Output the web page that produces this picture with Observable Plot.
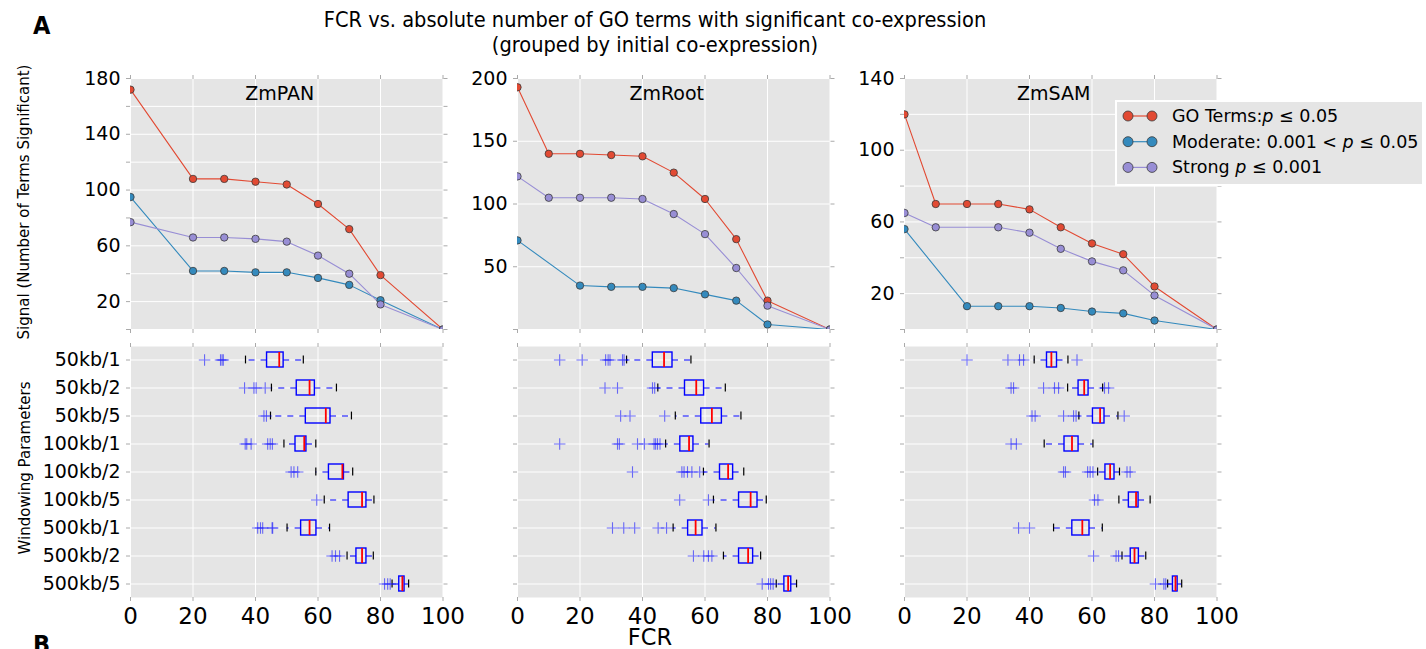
<!DOCTYPE html>
<html><head><meta charset="utf-8">
<script src="https://cdn.jsdelivr.net/npm/d3@7"></script>
<script src="https://cdn.jsdelivr.net/npm/@observablehq/plot@0.6"></script>
<style>
body{margin:0;background:#fff;}
#root{position:relative;width:1426px;height:649px;overflow:hidden;font-family:"DejaVu Sans",sans-serif;}
#root svg{position:absolute;}
</style></head><body><div id="root"></div>
<script>
// ---------- series ----------
const seriesNames = ["GO Terms", "Moderate", "Strong"];
const seriesColors = ["#E24A33", "#348ABD", "#988ED5"];
const panelNames = ["ZmPAN", "ZmRoot", "ZmSAM"];

// ZmPAN
const panFcr = [0, 20, 30, 40, 50, 60, 70, 80, 100];
const panGo = [172, 108, 108, 106, 104, 90, 72, 39, 0];
const panModerate = [95, 42, 42, 41, 41, 37, 32, 21, 0];
const panStrong = [77, 66, 66, 65, 63, 53, 40, 18, 0];
// ZmRoot
const rootFcrGo = [0, 10, 20, 30, 40, 50, 60, 70, 80, 100];
const rootGo = [193, 140, 140, 139, 138, 125, 104, 72, 23, 0];
const rootFcrModerate = [0, 20, 30, 40, 50, 60, 70, 80, 100];
const rootModerate = [71, 35, 34, 34, 33, 28, 23, 4, 0];
const rootFcrStrong = [0, 10, 20, 30, 40, 50, 60, 70, 80, 100];
const rootStrong = [122, 105, 105, 105, 104, 92, 76, 49, 19, 0];
// ZmSAM
const samFcrGo = [0, 10, 20, 30, 40, 50, 60, 70, 80, 100];
const samGo = [120, 70, 70, 70, 67, 57, 48, 42, 24, 0];
const samFcrModerate = [0, 20, 30, 40, 50, 60, 70, 80, 100];
const samModerate = [56, 13, 13, 13, 12, 10, 9, 5, 0];
const samFcrStrong = [0, 10, 30, 40, 50, 60, 70, 80, 100];
const samStrong = [65, 57, 57, 54, 45, 38, 33, 19, 0];

// y axes of the top panels
const panYTicks = [0, 20, 40, 60, 80, 100, 120, 140, 160, 180];
const panYLabels = [20, 60, 100, 140, 180];
const rootYTicks = [0, 50, 100, 150, 200];
const rootYLabels = [50, 100, 150, 200];
const samYTicks = [0, 20, 40, 60, 80, 100, 120, 140];
const samYLabels = [20, 60, 100, 140];
const fcrTicks = [0, 20, 40, 60, 80, 100];

// ---------- boxplots ----------
const windows = ["50kb/1","50kb/2","50kb/5","100kb/1","100kb/2","100kb/5","500kb/1","500kb/2","500kb/5"];

const panLo  = [36.8, 45.1, 44.8, 49.1, 59.3, 62.0, 50.1, 69.3, 83.7];
const panQ1  = [43.7, 53.2, 56.1, 52.8, 63.5, 69.8, 54.6, 72.3, 86.0];
const panMed = [47.6, 57.3, 62.5, 55.6, 67.8, 74.1, 57.3, 74.1, 87.0];
const panQ3  = [49.0, 59.0, 64.0, 56.3, 68.3, 75.5, 59.5, 75.5, 87.7];
const panHi  = [55.3, 65.9, 70.7, 59.3, 71.1, 77.9, 63.7, 77.7, 89.0];
const panFliers = [[23.7,28.8,29.3,29.7],[36.5,39.5,40.2,43.1],[42.7,43.5],[36.7,37.2,38.6,43.9,44.7,45.4],[51.4,52.3,53.5],[59.6],[40.7,41.6,42.3,45.3,45.5],[64.5,65.6,66.9],[81.3,82.3,83.1]];

const rootLo  = [34.9, 44.9, 50.5, 47.4, 59.5, 62.7, 49.8, 65.9, 82.8];
const rootQ1  = [43.3, 53.6, 58.8, 52.1, 64.8, 70.9, 54.6, 70.9, 85.4];
const rootMed = [46.9, 57.2, 62.2, 54.9, 67.4, 74.6, 57.0, 73.8, 86.6];
const rootQ3  = [49.6, 59.7, 65.4, 56.3, 69.0, 76.8, 59.2, 75.4, 87.6];
const rootHi  = [55.5, 66.5, 71.5, 61.3, 72.4, 79.6, 63.5, 77.8, 89.3];
const rootFliers = [[13.5,20.7,28.2,29.0,29.6,33.6,34.1],[28.0,32.0,43.2,43.9],[33.0,36.0,47.1],[13.5,32.0,32.6,38.4,40.6,43.7,44.2,44.8,45.6],[36.8,52.6,53.3,54.4,55.8,58.3],[51.9,61.1],[30.4,34.0,37.5,45.0,47.7],[56.3,59.6,61.1,62.2],[78.3,80.3,81.0,81.8]];

const samLo  = [41.5, 52.2, 55.8, 44.7, 61.8, 68.6, 47.7, 69.6, 84.2];
const samQ1  = [45.6, 55.7, 60.3, 51.2, 64.3, 71.8, 53.7, 72.4, 85.9];
const samMed = [47.0, 57.5, 62.6, 53.6, 65.8, 74.1, 56.9, 73.6, 86.7];
const samQ3  = [48.8, 58.9, 64.0, 55.7, 67.2, 74.9, 59.2, 75.0, 87.4];
const samHi  = [52.3, 63.4, 68.3, 60.3, 68.8, 78.6, 63.3, 77.2, 88.7];
const samFliers = [[20.0,33.1,36.8,38.1,55.2],[34.1,34.9,44.5,48.0,49.3,64.0,65.3],[40.8,41.8,50.9,54.1,54.9,70.3],[34.1,35.8],[50.9,51.5,58.6,59.4,60.3,71.2,72.2],[60.8,61.9],[36.5,40.0],[60.5,67.7,68.5],[80.3,83.0,83.6]];

// ---------- build helpers ----------
const root = document.getElementById("root");
const BG = "#E5E5E5";
const FW = 312.5, FH = 251;
const frameLefts = [129.7, 516.8, 904.2];
const topFrameTop = 77.5, botFrameTop = 346;
const baseStyle = {background: "transparent", overflow: "visible", fontFamily: "DejaVu Sans, sans-serif", fontSize: "19px", color: "#000"};

function lineRows(pairs) {
  const rows = [];
  pairs.forEach(([name, xs, ys]) => xs.forEach((x, i) => rows.push({series: name, fcr: x, value: ys[i]})));
  return rows;
}

function place(svg, left, top) {
  svg.style.left = left + "px";
  svg.style.top = top + "px";
  root.appendChild(svg);
}

function topPanel(idx, rows, yMax, yTicks, yLabels) {
  const mL = 70, mR = 12, mT = 12, mB = 12;
  const svg = Plot.plot({
    width: FW + mL + mR, height: FH + mT + mB,
    marginLeft: mL, marginRight: mR, marginTop: mT, marginBottom: mB,
    style: baseStyle,
    x: {domain: [0, 100], label: null},
    y: {domain: [0, yMax], label: null},
    color: {domain: seriesNames, range: seriesColors},
    marks: [
      Plot.frame({fill: BG, stroke: "none"}),
      Plot.gridX({ticks: fcrTicks, stroke: "#fff", strokeOpacity: 1, strokeWidth: 1}),
      Plot.gridY({ticks: yTicks, stroke: "#fff", strokeOpacity: 1, strokeWidth: 1}),
      Plot.axisY({ticks: yTicks, anchor: "left", tickSize: 4, stroke: "#aaa", fill: "none", label: null}),
      Plot.axisY({ticks: yTicks, anchor: "right", tickSize: 4, stroke: "#aaa", fill: "none", label: null}),
      Plot.axisX({ticks: fcrTicks, anchor: "bottom", tickSize: 4, stroke: "#aaa", fill: "none", label: null}),
      Plot.axisX({ticks: fcrTicks, anchor: "top", tickSize: 4, stroke: "#aaa", fill: "none", label: null}),
      Plot.axisY({ticks: yLabels, anchor: "left", tickSize: 0, tickPadding: 10, fill: "#000", fontSize: 19, label: null}),
      Plot.line(rows, {x: "fcr", y: "value", z: "series", stroke: "series", strokeWidth: 1.1, clip: true}),
      Plot.dot(rows, {x: "fcr", y: "value", fill: "series", stroke: "#3a3a3a", strokeWidth: 0.8, r: 3.7, clip: true}),
      Plot.text([panelNames[idx]], {text: d => d, frameAnchor: "top", lineAnchor: "top", dy: 8, dx: -7, fontSize: 19, fill: "#000"})
    ]
  });
  place(svg, frameLefts[idx] - mL, topFrameTop - mT);
}

function boxPanel(idx, lo, q1, med, q3, hi, fliers, showLabels) {
  const mL = 130, mR = 12, mT = 12, mB = 50;
  const boxes = windows.map((w, i) => ({win: w, lo: lo[i], q1: q1[i], med: med[i], q3: q3[i], hi: hi[i]}));
  const outs = [];
  fliers.forEach((arr, i) => arr.forEach(v => outs.push({win: windows[i], v})));
  const capInset = 3.6;
  const svg = Plot.plot({
    width: FW + mL + mR, height: FH + mT + mB,
    marginLeft: mL, marginRight: mR, marginTop: mT, marginBottom: mB,
    style: baseStyle,
    x: {domain: [0, 100], label: null},
    y: {type: "band", domain: windows, paddingInner: 0.48, paddingOuter: 0.222, label: null},
    marks: [
      Plot.frame({fill: BG, stroke: "none"}),
      Plot.gridX({ticks: fcrTicks, stroke: "#fff", strokeOpacity: 1, strokeWidth: 1}),
      Plot.gridY({stroke: "#fff", strokeOpacity: 1, strokeWidth: 1}),
      Plot.axisY({anchor: "left", tickSize: 4, stroke: "#aaa", fill: "none", label: null}),
      Plot.axisY({anchor: "right", tickSize: 4, stroke: "#aaa", fill: "none", label: null}),
      Plot.axisX({ticks: fcrTicks, anchor: "bottom", tickSize: 4, stroke: "#aaa", fill: "none", label: null}),
      Plot.axisX({ticks: fcrTicks, anchor: "top", tickSize: 4, stroke: "#aaa", fill: "none", label: null}),
      showLabels ? Plot.axisY({anchor: "left", tickSize: 0, tickPadding: 10, fill: "#000", fontSize: 19, label: null}) : null,
      Plot.axisX({ticks: fcrTicks, anchor: "bottom", tickSize: 0, tickPadding: 10, fill: "#000", fontSize: 23, label: null}),
      Plot.ruleY(boxes, {y: "win", x1: "q1", x2: "lo", stroke: "#0000ff", strokeWidth: 1.1, strokeDasharray: "6,6"}),
      Plot.ruleY(boxes, {y: "win", x1: "q3", x2: "hi", stroke: "#0000ff", strokeWidth: 1.1, strokeDasharray: "6,6"}),
      Plot.tickX(boxes, {x: "lo", y: "win", stroke: "#000", strokeWidth: 1.2, insetTop: capInset, insetBottom: capInset}),
      Plot.tickX(boxes, {x: "hi", y: "win", stroke: "#000", strokeWidth: 1.2, insetTop: capInset, insetBottom: capInset}),
      Plot.barX(boxes, {x1: "q1", x2: "q3", y: "win", fill: "none", stroke: "#0000ff", strokeWidth: 1.4}),
      Plot.tickX(boxes, {x: "med", y: "win", stroke: "#ff0000", strokeWidth: 1.8}),
      Plot.dot(outs, {x: "v", y: "win", symbol: "plus", r: 3.8, stroke: "#0000ff", strokeOpacity: 0.55, strokeWidth: 1.1})
    ]
  });
  place(svg, frameLefts[idx] - mL, botFrameTop - mT);
}

topPanel(0, lineRows([[seriesNames[0], panFcr, panGo], [seriesNames[1], panFcr, panModerate], [seriesNames[2], panFcr, panStrong]]), 180, panYTicks, panYLabels);
topPanel(1, lineRows([[seriesNames[0], rootFcrGo, rootGo], [seriesNames[1], rootFcrModerate, rootModerate], [seriesNames[2], rootFcrStrong, rootStrong]]), 200, rootYTicks, rootYLabels);
topPanel(2, lineRows([[seriesNames[0], samFcrGo, samGo], [seriesNames[1], samFcrModerate, samModerate], [seriesNames[2], samFcrStrong, samStrong]]), 140, samYTicks, samYLabels);

boxPanel(0, panLo, panQ1, panMed, panQ3, panHi, panFliers, true);
boxPanel(1, rootLo, rootQ1, rootMed, rootQ3, rootHi, rootFliers, false);
boxPanel(2, samLo, samQ1, samMed, samQ3, samHi, samFliers, false);

// ---------- overlay: titles, axis labels, legend ----------
const NS = "http://www.w3.org/2000/svg";
const ov = document.createElementNS(NS, "svg");
ov.setAttribute("width", 1426); ov.setAttribute("height", 649);
ov.style.left = "0px"; ov.style.top = "0px"; ov.style.overflow = "hidden";
ov.style.fontFamily = "DejaVu Sans, sans-serif";
root.appendChild(ov);
function el(tag, attrs, parent) {
  const e = document.createElementNS(NS, tag);
  for (const k in attrs) e.setAttribute(k, attrs[k]);
  (parent || ov).appendChild(e);
  return e;
}
function txt(s, attrs, parent) { const e = el("text", attrs, parent); e.textContent = s; return e; }

const condensed = "'DejaVu Sans Condensed', 'Liberation Sans Narrow', 'DejaVu Sans', sans-serif";
txt("FCR vs. absolute number of GO terms with significant co-expression", {x: 655, y: 27, "text-anchor": "middle", "font-size": 21.6, "font-family": condensed, "font-stretch": "condensed"});
txt("(grouped by initial co-expression)", {x: 655, y: 51.5, "text-anchor": "middle", "font-size": 21.6, "font-family": condensed, "font-stretch": "condensed"});
txt("A", {x: 33, y: 34, "font-size": 25, "font-weight": "bold", "font-family": condensed, "font-stretch": "condensed"});
txt("B", {x: 33, y: 653, "font-size": 25, "font-weight": "bold", "font-family": condensed, "font-stretch": "condensed"});
txt("Signal (Number of Terms Significant)", {transform: "translate(24,202) rotate(-90)", "text-anchor": "middle", "dominant-baseline": "central", "font-size": 15});
txt("Windowing Parameters", {transform: "translate(25,468) rotate(-90)", "text-anchor": "middle", "dominant-baseline": "central", "font-size": 15});
txt("FCR", {x: 650, y: 645, "text-anchor": "middle", "font-size": 22.5});

// legend
el("rect", {x: 1116, y: 101, width: 307, height: 84, fill: BG, stroke: "#fff", "stroke-width": 2});
const legendRows = [
  [{t: "GO Terms:"}, {t: "p", i: true}, {t: " ≤ 0.05"}],
  [{t: "Moderate: 0.001 < "}, {t: "p", i: true}, {t: " ≤ 0.05"}],
  [{t: "Strong "}, {t: "p", i: true}, {t: " ≤ 0.001"}]
];
seriesNames.forEach((name, i) => {
  const y = 116 + i * 25.7;
  el("line", {x1: 1128, x2: 1152, y1: y, y2: y, stroke: seriesColors[i], "stroke-width": 1.2});
  [1128, 1152].forEach(x => el("circle", {cx: x, cy: y, r: 5, fill: seriesColors[i], stroke: "#3a3a3a", "stroke-width": 0.8}));
  const t = el("text", {x: 1172, y: y, "dominant-baseline": "central", "font-size": 17.5});
  legendRows[i].forEach(p => { const s = el("tspan", p.i ? {"font-style": "italic"} : {}, t); s.textContent = p.t; });
});
</script></body></html>
